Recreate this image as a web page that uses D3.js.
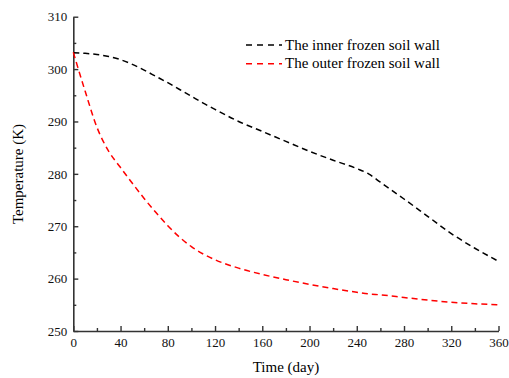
<!DOCTYPE html>
<html>
<head>
<meta charset="utf-8">
<script src="https://cdn.jsdelivr.net/npm/d3@7"></script>
<style>
  body { margin: 0; background: #fff; }
  .axis path, .axis line { stroke: #333; }
  .axis path { stroke-width: 1.6; }
  .axis line { stroke-width: 1.4; }
</style>
</head>
<body>
<div id="chart"></div>
<script>
const FONT = "'Liberation Serif', 'Times New Roman', serif";

// time in days
const days = [0, 10, 20, 30, 40, 50, 60, 70, 80, 90, 100, 110, 120, 140, 160, 180, 200, 220, 240, 250, 260, 280, 300, 320, 340, 360];
// temperature (K), inner frozen soil wall
const innerWall = [303.1, 303.0, 302.8, 302.4, 301.8, 300.9, 299.8, 298.6, 297.4, 296.1, 294.8, 293.5, 292.3, 290.0, 288.1, 286.2, 284.3, 282.6, 281.0, 280.0, 278.4, 275.2, 271.9, 268.6, 265.8, 263.3];
// temperature (K), outer frozen soil wall
const outerWall = [303.2, 295.8, 288.9, 284.3, 281.2, 278.2, 275.3, 272.6, 270.1, 267.9, 266.1, 264.7, 263.6, 262.0, 260.8, 259.8, 258.9, 258.1, 257.4, 257.1, 256.9, 256.4, 255.9, 255.5, 255.2, 255.0];

const seriesNames = ["The inner frozen soil wall", "The outer frozen soil wall"];
const seriesColors = ["#000000", "#ff0000"];
const xTicks = [0, 40, 80, 120, 160, 200, 240, 280, 320, 360];
const yTicks = [250, 260, 270, 280, 290, 300, 310];

const W = 509, H = 378;
const margin = {top: 16.7, right: 10.5, bottom: 47, left: 73.3};
const width = W - margin.left - margin.right,
      height = H - margin.top - margin.bottom;

const svg = d3.select("#chart").append("svg")
    .attr("width", W)
    .attr("height", H);

const g = svg.append("g")
    .attr("transform", "translate(" + margin.left + "," + margin.top + ")");

const x = d3.scaleLinear().domain([0, 360]).range([0, width]);
const y = d3.scaleLinear().domain([250, 310]).range([height, 0]);

// minor ticks
g.append("g")
    .attr("class", "axis minor")
    .attr("transform", "translate(0," + height + ")")
    .call(d3.axisBottom(x).tickValues(d3.range(20, 360, 40)).tickSizeInner(-3).tickSizeOuter(0).tickFormat(""))
    .call(s => s.select(".domain").remove());
g.append("g")
    .attr("class", "axis minor")
    .call(d3.axisLeft(y).tickValues(d3.range(255, 310, 10)).tickSizeInner(-3).tickSizeOuter(0).tickFormat(""))
    .call(s => s.select(".domain").remove());

// major axes
g.append("g")
    .attr("class", "axis x")
    .attr("transform", "translate(0," + height + ")")
    .attr("font-family", FONT)
    .call(d3.axisBottom(x).tickValues(xTicks).tickSizeInner(-5).tickSizeOuter(0).tickPadding(7).tickFormat(d3.format("d")))
    .call(s => s.selectAll("text").style("font-size", "13px").style("font-family", FONT).style("fill", "#111"));

g.append("g")
    .attr("class", "axis y")
    .attr("font-family", FONT)
    .call(d3.axisLeft(y).tickValues(yTicks).tickSizeInner(-5).tickSizeOuter(0).tickPadding(6).tickFormat(d3.format("d")))
    .call(s => s.selectAll("text").style("font-size", "13px").style("font-family", FONT).style("fill", "#111"));

// axis titles
svg.append("text")
    .attr("x", 286)
    .attr("y", 372)
    .attr("text-anchor", "middle")
    .style("font-family", FONT)
    .style("font-size", "15px")
    .text("Time (day)");

svg.append("text")
    .attr("transform", "translate(23," + 174 + ") rotate(-90)")
    .attr("text-anchor", "middle")
    .style("font-family", FONT)
    .style("font-size", "15px")
    .text("Temperature (K)");

// lines
const line = d3.line()
    .curve(d3.curveMonotoneX)
    .x(d => x(d[0]))
    .y(d => y(d[1]));

const series = [innerWall, outerWall].map((vals, i) => ({
    name: seriesNames[i],
    color: seriesColors[i],
    values: days.map((t, j) => [t, vals[j]])
}));

g.selectAll("path.data")
    .data(series)
    .enter()
    .append("path")
    .attr("class", "data")
    .attr("d", d => line(d.values))
    .style("fill", "none")
    .style("stroke", d => d.color)
    .style("stroke-width", 1.5)
    .style("stroke-dasharray", "6,4");

// legend
const legend = svg.append("g")
    .attr("class", "legend")
    .attr("transform", "translate(246,45)");

const item = legend.selectAll("g")
    .data(series)
    .enter()
    .append("g")
    .attr("transform", (d, i) => "translate(0," + (i * 18.7) + ")");

item.append("line")
    .attr("x1", 0)
    .attr("x2", 36)
    .attr("y1", 0)
    .attr("y2", 0)
    .style("stroke", d => d.color)
    .style("stroke-width", 1.5)
    .style("stroke-dasharray", "6,5");

item.append("text")
    .attr("x", 39)
    .attr("y", 4.5)
    .style("font-family", FONT)
    .style("font-size", "15px")
    .text(d => d.name);
</script>
</body>
</html>
